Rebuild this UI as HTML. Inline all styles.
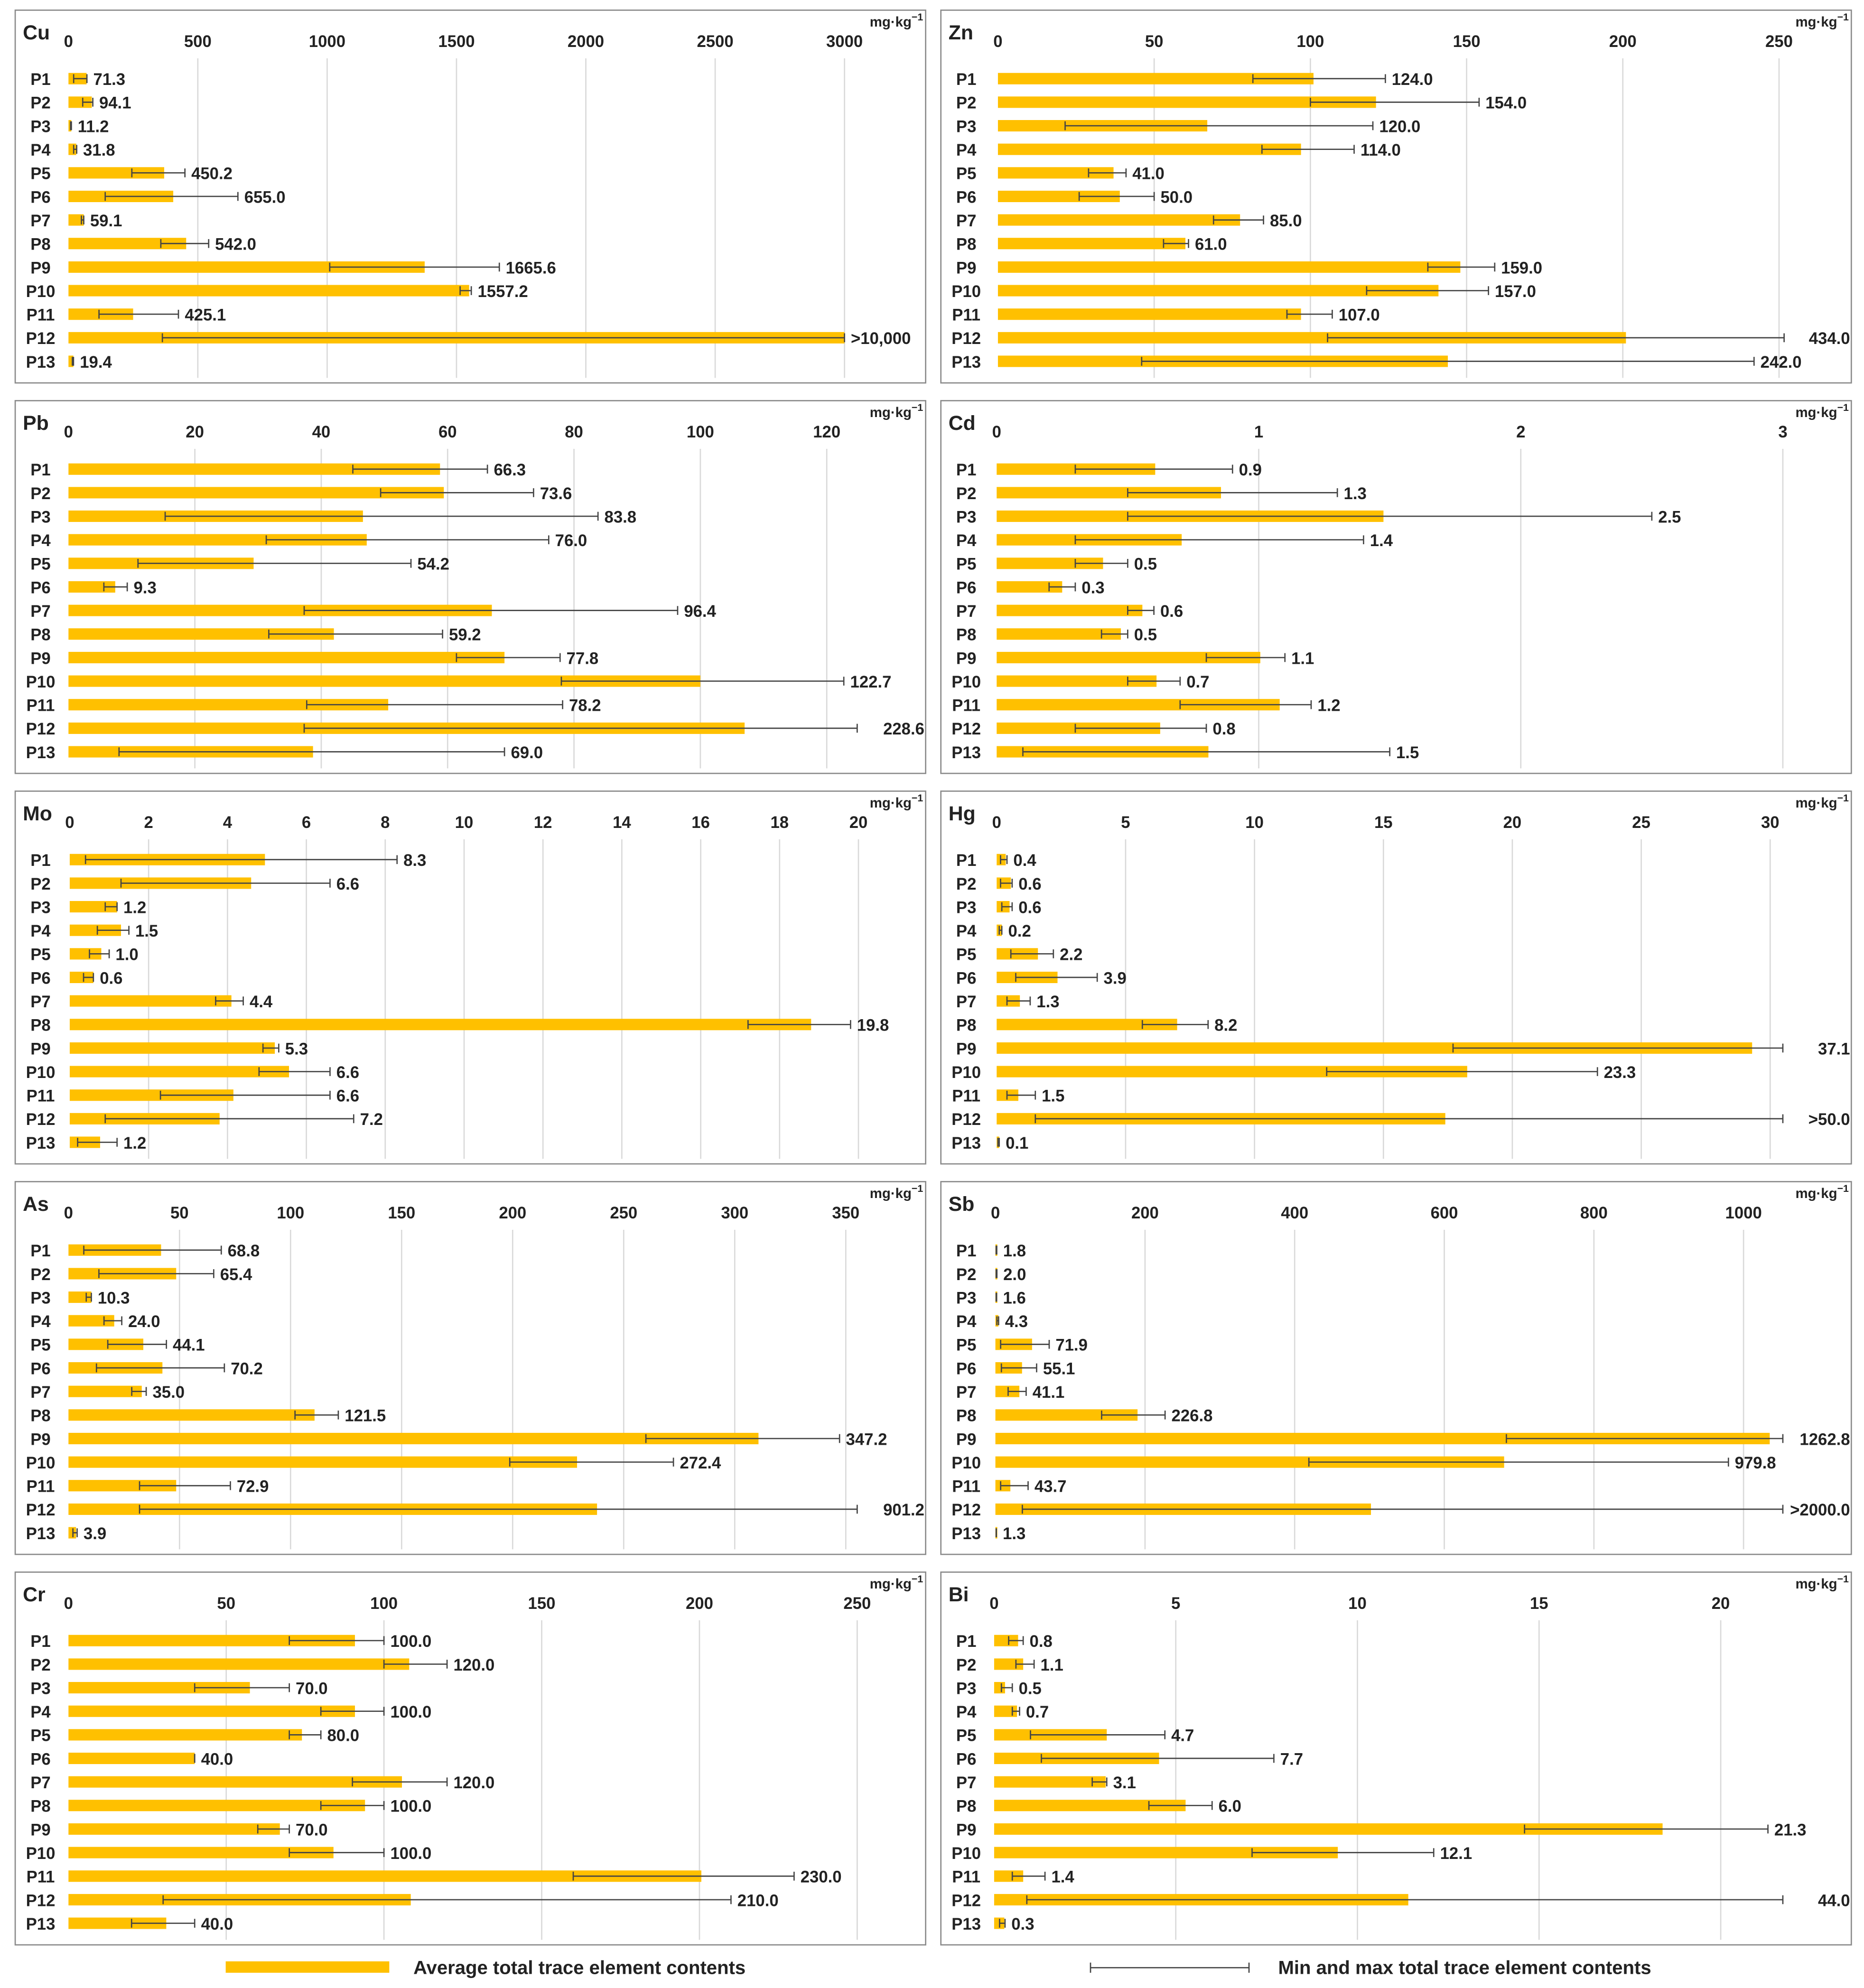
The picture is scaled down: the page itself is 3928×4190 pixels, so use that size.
<!DOCTYPE html>
<html>
<head>
<meta charset="utf-8">
<style>
html,body{margin:0;padding:0;background:#fff;}
svg{display:block;font-family:"Liberation Sans",sans-serif;}
</style>
</head>
<body>
<svg id="chart" width="3928" height="4190" viewBox="0 0 1470 1568" xmlns="http://www.w3.org/2000/svg">
<g id="panels"></g>
<g id="legend">
  <rect x="178" y="1547" width="129" height="9" fill="#FFC000"/>
  <text x="326" y="1557" font-size="15" font-weight="bold" fill="#222">Average total trace element contents</text>
  <g stroke="#444" stroke-width="1">
    <line x1="860" y1="1552" x2="985" y2="1552"/>
    <line x1="860" y1="1548" x2="860" y2="1556"/>
    <line x1="985" y1="1548" x2="985" y2="1556"/>
  </g>
  <text x="1008" y="1557" font-size="15" font-weight="bold" fill="#222">Min and max total trace element contents</text>
</g>
</svg>
<script>
const categories = ["P1","P2","P3","P4","P5","P6","P7","P8","P9","P10","P11","P12","P13"];

const cuMean = [70,90,11,30,370,405,59,455,1377,1549,250,3000,19];
const cuMin  = [20,55,8,20,245,142,50,357,1010,1514,118,363,15];
const cuMax  = [71.3,94.1,11.2,31.8,450.2,655,59.1,542,1665.6,1557.2,425.1,3000,19.4];
const cuLabels = ["71.3","94.1","11.2","31.8","450.2","655.0","59.1","542.0","1665.6","1557.2","425.1",">10,000","19.4"];
const cuTicks = [0,500,1000,1500,2000,2500,3000];

const znMean = [101,121,67,97,37,39,77.5,60,148,141,97,201,144];
const znMin  = [81.6,100,21.5,84.5,29,26,69,53,137.6,118,92.5,105.5,46];
const znMax  = [124,154,120,114,41,50,85,61,159,157,107,434,242];
const znLabels = ["124.0","154.0","120.0","114.0","41.0","50.0","85.0","61.0","159.0","157.0","107.0","434.0","242.0"];
const znTicks = [0,50,100,150,200,250];

const pbMean = [58.8,59.4,46.6,47.2,29.3,7.4,67,42,69,100,50.6,107,38.7];
const pbMin  = [45,49.4,15.3,31.3,11,5.6,37.3,31.7,61.4,78,37.7,37.3,8];
const pbMax  = [66.3,73.6,83.8,76,54.2,9.3,96.4,59.2,77.8,122.7,78.2,228.6,69];
const pbLabels = ["66.3","73.6","83.8","76.0","54.2","9.3","96.4","59.2","77.8","122.7","78.2","228.6","69.0"];
const pbTicks = [0,20,40,60,80,100,120];

const cdMean = [0.605,0.856,1.476,0.706,0.406,0.25,0.556,0.474,1.006,0.61,1.08,0.624,0.808];
const cdMin  = [0.3,0.5,0.5,0.3,0.3,0.2,0.5,0.4,0.8,0.5,0.7,0.3,0.1];
const cdMax  = [0.9,1.3,2.5,1.4,0.5,0.3,0.6,0.5,1.1,0.7,1.2,0.8,1.5];
const cdLabels = ["0.9","1.3","2.5","1.4","0.5","0.3","0.6","0.5","1.1","0.7","1.2","0.8","1.5"];
const cdTicks = [0,1,2,3];

const moMean = [4.95,4.6,1.2,1.3,0.8,0.6,4.1,18.8,5.2,5.56,4.15,3.8,0.77];
const moMin  = [0.4,1.3,0.9,0.7,0.5,0.35,3.7,17.2,4.9,4.8,2.3,0.9,0.2];
const moMax  = [8.3,6.6,1.2,1.5,1.0,0.6,4.4,19.8,5.3,6.6,6.6,7.2,1.2];
const moLabels = ["8.3","6.6","1.2","1.5","1.0","0.6","4.4","19.8","5.3","6.6","6.6","7.2","1.2"];
const moTicks = [0,2,4,6,8,10,12,14,16,18,20];

const hgMean = [0.35,0.55,0.5,0.2,1.6,2.36,0.9,7.0,29.3,18.25,0.84,17.4,0.1];
const hgMin  = [0.15,0.15,0.2,0.1,0.55,0.74,0.4,5.65,17.7,12.8,0.4,1.5,0.05];
const hgMax  = [0.4,0.6,0.6,0.2,2.2,3.9,1.3,8.2,37.1,23.3,1.5,50,0.1];
const hgLabels = ["0.4","0.6","0.6","0.2","2.2","3.9","1.3","8.2","37.1","23.3","1.5",">50.0","0.1"];
const hgTicks = [0,5,10,15,20,25,30];

const asMean = [41.7,48.5,10.3,20.6,33.7,42.3,33,110.8,310.7,229,48.5,238,3.4];
const asMin  = [6.9,13.7,8,16,17.7,12.6,28.5,102,260,198.7,32,32,2];
const asMax  = [68.8,65.4,10.3,24,44.1,70.2,35,121.5,347.2,272.4,72.9,901.2,3.9];
const asLabels = ["68.8","65.4","10.3","24.0","44.1","70.2","35.0","121.5","347.2","272.4","72.9","901.2","3.9"];
const asTicks = [0,50,100,150,200,250,300,350];

const sbMean = [1.8,2,1.6,4,49,35.6,32,190,1035,680,20,502,1.3];
const sbMin  = [1,1,1,2,7,8,17,142,683,419,7,36,1];
const sbMax  = [1.8,2.0,1.6,4.3,71.9,55.1,41.1,226.8,1262.8,979.8,43.7,2000,1.3];
const sbLabels = ["1.8","2.0","1.6","4.3","71.9","55.1","41.1","226.8","1262.8","979.8","43.7",">2000.0","1.3"];
const sbTicks = [0,200,400,600,800,1000];

const crMean = [90.8,108,57.5,90.8,74,40,105.7,94,67,84,200.6,108.5,31];
const crMin  = [70,100,40,80,70,40,90,80,60,70,160,30,20];
const crMax  = [100,120,70,100,80,40,120,100,70,100,230,210,40];
const crLabels = ["100.0","120.0","70.0","100.0","80.0","40.0","120.0","100.0","70.0","100.0","230.0","210.0","40.0"];
const crTicks = [0,50,100,150,200,250];

const biMean = [0.66,0.8,0.3,0.63,3.1,4.54,3.07,5.27,18.4,9.46,0.8,11.4,0.28];
const biMin  = [0.4,0.6,0.2,0.5,1.0,1.3,2.7,4.26,14.6,7.1,0.5,0.9,0.15];
const biMax  = [0.8,1.1,0.5,0.7,4.7,7.7,3.1,6.0,21.3,12.1,1.4,44,0.3];
const biLabels = ["0.8","1.1","0.5","0.7","4.7","7.7","3.1","6.0","21.3","12.1","1.4","44.0","0.3"];
const biTicks = [0,5,10,15,20];

const NS = "http://www.w3.org/2000/svg";
const root = document.getElementById("panels");
function mk(tag, attrs, parent){
  const e = document.createElementNS(NS, tag);
  for (const k in attrs) e.setAttribute(k, attrs[k]);
  parent.appendChild(e);
  return e;
}

function drawPanel(cfg, mean, mn, mx, labels, ticks){
  const id = cfg.title.toLowerCase();
  const g = mk("g", {}, root);
  
  
  const top = cfg.top, left = cfg.left, w = 718, h = 294;
  const frame = mk("rect", {x:left, y:top, width:w, height:h, fill:"#fff", stroke:"#8a8a8a", "stroke-width":1}, g);
  
  
  const tmax = ticks[ticks.length-1];
  const sx = v => cfg.x0 + (v / tmax) * (cfg.x1 - cfg.x0);
  const clampPx = cfg.clampPx;
  ticks.forEach(t => {
    const x = sx(t);
    if (t > 0) {
      const gl = mk("line", {x1:x, x2:x, y1:top+38, y2:top+h-4, stroke:"#d9d9d9", "stroke-width":1}, g);
      
      
    }
    const tl = mk("text", {x:x, y:top+29, "font-size":13, "font-weight":"bold", "text-anchor":"middle", fill:"#222"}, g);
    
    
    tl.textContent = t;
  });
  const ttl = mk("text", {x:left+6, y:top+23, "font-size":16, "font-weight":"bold", fill:"#222"}, g);
  
  
  ttl.textContent = cfg.title;
  const unit = mk("text", {x:left+w-2, y:top+13, "font-size":11, "font-weight":"bold", "text-anchor":"end", fill:"#222"}, g);
  
  
  unit.innerHTML = 'mg·kg<tspan dy="-5" font-size="8">−1</tspan>';
  categories.forEach((c, i) => {
    const cy = top + 54 + i * 18.58;
    const cl = mk("text", {x:left+20, y:cy+5, "font-size":13, "font-weight":"bold", "text-anchor":"middle", fill:"#222"}, g);
    
    
    cl.textContent = c;
    const xb = Math.min(sx(mean[i]), clampPx);
    const bar = mk("rect", {x:cfg.x0, y:cy-4.5, width:Math.max(1.5, xb-cfg.x0), height:9, fill:"#FFC000"}, g);
    
    
    const xa = sx(mn[i]);
    const rawB = sx(mx[i]);
    const clamped = rawB > clampPx;
    const xm = Math.min(rawB, clampPx);
    const wg = mk("g", {stroke:"#444", "stroke-width":1}, g);
    
    
    mk("line", {x1:xa, x2:xm, y1:cy, y2:cy}, wg);
    mk("line", {x1:xa, x2:xa, y1:cy-3.5, y2:cy+3.5}, wg);
    mk("line", {x1:xm, x2:xm, y1:cy-3.5, y2:cy+3.5}, wg);
    let vl;
    if (clamped) {
      vl = mk("text", {x:left+w-1, y:cy+5, "font-size":13, "font-weight":"bold", "text-anchor":"end", fill:"#222"}, g);
    } else {
      vl = mk("text", {x:xm+5, y:cy+5, "font-size":13, "font-weight":"bold", fill:"#222"}, g);
    }
    
    
    vl.textContent = labels[i];
  });
}

drawPanel({title:"Cu", left:12, top:8,    x0:54,  x1:666,  clampPx:666},  cuMean, cuMin, cuMax, cuLabels, cuTicks);
drawPanel({title:"Zn", left:742, top:8,   x0:787, x1:1403, clampPx:1407}, znMean, znMin, znMax, znLabels, znTicks);
drawPanel({title:"Pb", left:12, top:316,  x0:54,  x1:652,  clampPx:676},  pbMean, pbMin, pbMax, pbLabels, pbTicks);
drawPanel({title:"Cd", left:742, top:316, x0:786, x1:1406, clampPx:1408}, cdMean, cdMin, cdMax, cdLabels, cdTicks);
drawPanel({title:"Mo", left:12, top:624,  x0:55,  x1:677,  clampPx:690},  moMean, moMin, moMax, moLabels, moTicks);
drawPanel({title:"Hg", left:742, top:624, x0:786, x1:1396, clampPx:1406}, hgMean, hgMin, hgMax, hgLabels, hgTicks);
drawPanel({title:"As", left:12, top:932,  x0:54,  x1:667,  clampPx:676},  asMean, asMin, asMax, asLabels, asTicks);
drawPanel({title:"Sb", left:742, top:932, x0:785, x1:1375, clampPx:1406}, sbMean, sbMin, sbMax, sbLabels, sbTicks);
drawPanel({title:"Cr", left:12, top:1240, x0:54,  x1:676,  clampPx:700},  crMean, crMin, crMax, crLabels, crTicks);
drawPanel({title:"Bi", left:742, top:1240,x0:784, x1:1357, clampPx:1406}, biMean, biMin, biMax, biLabels, biTicks);
</script>
</body>
</html>
